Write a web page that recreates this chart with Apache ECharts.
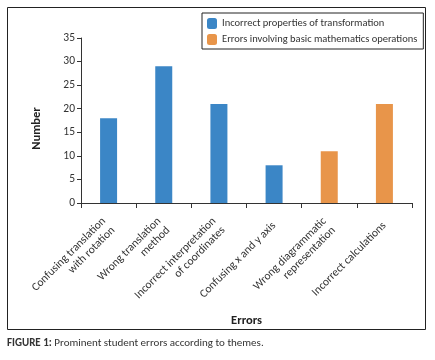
<!DOCTYPE html>
<html>
<head>
<meta charset="utf-8">
<script src="https://cdn.jsdelivr.net/npm/echarts@6/dist/echarts.min.js"></script>
<style>
  html, body { margin: 0; padding: 0; background: #fff; }
  #chart { width: 435px; height: 360px; }
</style>
</head>
<body>
<div id="chart"></div>
<script>
// categories along x axis
const categories = [
  'Confusing translation\nwith rotation',
  'Wrong translation\nmethod',
  'Incorrect interpretation\nof coordinates',
  'Confusing x and y axis',
  'Wrong diagrammatic\nrepresentation',
  'Incorrect calculations'
];
// values per theme ('-' = no bar)
const propertiesValues = [18, 29, 21, 8, '-', '-'];
const mathOpsValues = ['-', '-', '-', '-', 11, 21];
const seriesNames = ['Incorrect properties of transformation', 'Errors involving basic mathematics operations'];

const FONT = 'Carlito, "Liberation Sans Narrow", Roboto, sans-serif';
const chart = echarts.init(document.getElementById('chart'));

const option = {
  animation: false,
  textStyle: { fontFamily: FONT },
  grid: { left: 81, right: 23, top: 38, bottom: 157 },
  legend: {
    orient: 'vertical',
    left: 202,
    top: 13,
    padding: [5, 6, 4, 5],
    itemGap: 5,
    itemWidth: 10,
    itemHeight: 11,
    borderColor: '#222',
    borderWidth: 1,
    textStyle: { fontSize: 10.5, color: '#333', fontFamily: FONT },
    data: seriesNames
  },
  xAxis: {
    type: 'category',
    data: categories,
    name: 'Errors',
    nameLocation: 'middle',
    nameGap: 107,
    nameTextStyle: { fontWeight: 'bold', fontSize: 12.5, color: '#222' },
    axisLine: { lineStyle: { color: '#333' } },
    axisTick: { show: true, length: 5, lineStyle: { color: '#333' } },
    axisLabel: { rotate: 45, interval: 0, fontSize: 11.5, color: '#333', margin: 21, lineHeight: 13 }
  },
  yAxis: {
    type: 'value',
    min: 0,
    max: 35,
    interval: 5,
    name: 'Number',
    nameLocation: 'middle',
    nameGap: 38,
    nameTextStyle: { fontWeight: 'bold', fontSize: 12.5, color: '#222', padding: [0, 16, 0, 0] },
    axisLine: { show: true, lineStyle: { color: '#333' } },
    axisTick: { show: true, length: 4, lineStyle: { color: '#333' } },
    axisLabel: { fontSize: 11.5, color: '#333', margin: 6 },
    splitLine: { show: false }
  },
  series: [
    {
      name: seriesNames[0],
      type: 'bar',
      stack: 'all',
      barWidth: 17,
      data: propertiesValues,
      itemStyle: { color: '#3B86C6' }
    },
    {
      name: seriesNames[1],
      type: 'bar',
      stack: 'all',
      barWidth: 17,
      data: mathOpsValues,
      itemStyle: { color: '#E8954A' }
    }
  ],
  graphic: [
    {
      type: 'rect',
      silent: true,
      shape: { x: 7.5, y: 7.5, width: 418, height: 322 },
      style: { fill: 'none', stroke: '#222', lineWidth: 1 }
    },
    {
      type: 'text',
      left: 7,
      top: 338,
      style: {
        text: '{b|FIGURE 1:} Prominent student errors according to themes.',
        rich: {
          b: { fontWeight: 'bold', fontSize: 11, fill: '#333', fontFamily: FONT }
        },
        fontSize: 11,
        fill: '#333',
        fontFamily: FONT
      }
    }
  ]
};

chart.setOption(option);
</script>
</body>
</html>
